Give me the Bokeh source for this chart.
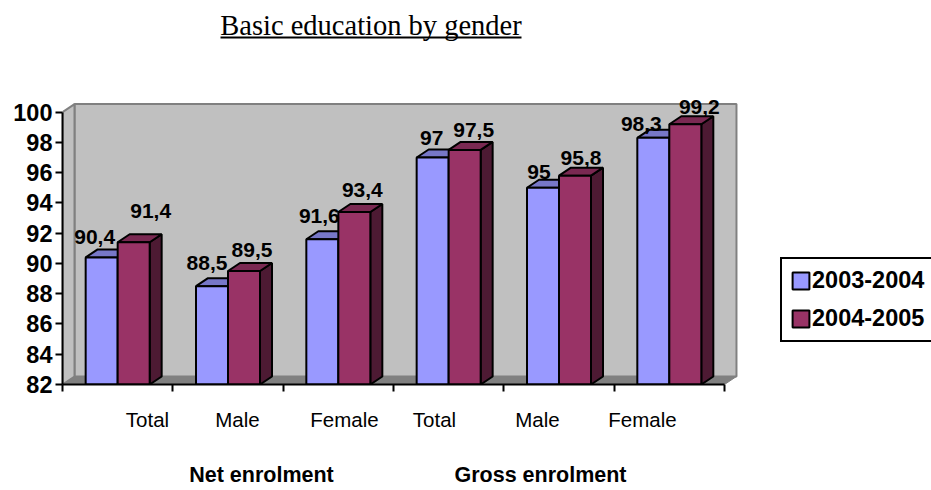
from bokeh.embed import file_html
from bokeh.resources import INLINE
from bokeh.plotting import figure
from bokeh.models import (ColumnDataSource, FixedTicker, Label, Legend, LegendItem,
                          LinearAxis, Range1d)
from bokeh.core.properties import value

# Chart values
categories = ["Total", "Male", "Female", "Total", "Male", "Female"]
series_names = ["2003-2004", "2004-2005"]
values_2003 = [90.4, 88.5, 91.6, 97, 95, 98.3]
values_2004 = [91.4, 89.5, 93.4, 97.5, 95.8, 99.2]
y_ticks = list(range(82, 101, 2))
group_titles = ["Net enrolment", "Gross enrolment"]
chart_title = "Basic education by gender"

# Page layout in pixels
W, H = 931, 490
LEFT, BASE = 62, 384
PX_PER_CAT = 110.33
PX_PER_UNIT = 15.133
DEPTH_X, DEPTH_Y = 12, 8
BAR_PX = 32
SANS = "Liberation Sans"
SERIF = "Liberation Serif"
Y0 = 82


def xpx(px):
    return (px - LEFT) / PX_PER_CAT


def ypx(py):
    return Y0 + (BASE - py) / PX_PER_UNIT


dx = DEPTH_X / PX_PER_CAT
dy = DEPTH_Y / PX_PER_UNIT
bw = BAR_PX / PX_PER_CAT
n = len(categories)

p = figure(width=W, height=H, output_backend="svg", toolbar_location=None,
           x_range=Range1d(0, (W - LEFT) / PX_PER_CAT),
           y_range=Range1d(Y0, ypx(0)),
           min_border_left=LEFT, min_border_right=0, min_border_top=0,
           min_border_bottom=H - BASE, outline_line_color=None,
           background_fill_color="white", border_fill_color="white")
p.grid.visible = False

# Walls and floor of the 3D box
wall = dict(line_color="#808080", line_width=2)
top = max(y_ticks)
p.patch([dx, n + dx, n + dx, dx], [Y0 + dy, Y0 + dy, top + dy, top + dy],
        fill_color="#c0c0c0", **wall)
p.patch([0, dx, dx, 0], [Y0, Y0 + dy, top + dy, top],
        fill_color="#c0c0c0", **wall)
p.patch([0, n, n + dx, dx], [Y0, Y0, Y0 + dy, Y0 + dy],
        fill_color="#808080", line_color="#808080", line_width=1)


def draw_series(vals, offset, face, lid, side):
    """Front, lid and side of one series' bars."""
    xc = [i + 0.5 + offset for i in range(n)]
    outline = dict(line_color="black", line_width=2)
    p.patches([[x + bw / 2, x + bw / 2 + dx, x + bw / 2 + dx, x + bw / 2] for x in xc],
              [[Y0, Y0 + dy, v + dy, v] for v in vals], fill_color=side, **outline)
    p.patches([[x - bw / 2, x + bw / 2, x + bw / 2 + dx, x - bw / 2 + dx] for x in xc],
              [[v, v, v + dy, v + dy] for v in vals], fill_color=lid, **outline)
    return p.vbar(x=xc, top=vals, bottom=Y0, width=bw, fill_color=face, **outline), xc


r_a, xc_a = draw_series(values_2003, -bw / 2, "#9999ff", "#7777c8", "#4a4a80")
r_b, xc_b = draw_series(values_2004, bw / 2, "#993366", "#7a2952", "#4d1a33")

# Value labels, nudged off the bar tops
label_dx = [-7, -5, -3, -1, -4, -12, 17, 8, 8, 9, 6, 14]
label_dy = [-20, -23, -23, -20, -16, -14, -31, -21, -22, -20, -18, -17]
all_vals = values_2003 + values_2004
src = ColumnDataSource(dict(
    x=xc_a + xc_b, y=all_vals,
    t=[f"{v:g}".replace(".", ",") for v in all_vals],
    ox=label_dx, oy=label_dy))
p.text("x", "y", text="t", source=src, x_offset="ox", y_offset="oy",
       text_font=value(SANS), text_font_style="bold", text_font_size="21px",
       text_align="center", text_baseline="middle", text_color="black")

# Value axis
p.yaxis.ticker = FixedTicker(ticks=y_ticks)
p.yaxis.bounds = (Y0, top)
p.yaxis.major_label_text_font = SANS
p.yaxis.major_label_text_font_style = "bold"
p.yaxis.major_label_text_font_size = "23.5px"
p.yaxis.major_label_text_color = "black"
p.yaxis.axis_line_color = "black"
p.yaxis.axis_line_width = 2
p.yaxis.major_tick_line_color = "black"
p.yaxis.major_tick_line_width = 2
p.yaxis.major_tick_in = 0
p.yaxis.major_tick_out = 7
p.yaxis.minor_tick_line_color = None
p.yaxis.major_label_standoff = 3

# Category axis: ticks at group edges, labels at their own positions
label_centres = [xpx(v) for v in (147, 237, 344, 434, 537, 642)]
p.xaxis.ticker = FixedTicker(ticks=label_centres, minor_ticks=list(range(n + 1)))
p.xaxis.major_label_overrides = dict(zip(label_centres, categories))
p.xaxis.bounds = (0, n)
p.xaxis.major_label_text_font = SANS
p.xaxis.major_label_text_font_size = "20.5px"
p.xaxis.major_label_text_color = "black"
p.xaxis.axis_line_color = "black"
p.xaxis.axis_line_width = 2
p.xaxis.major_tick_line_color = None
p.xaxis.major_tick_in = 0
p.xaxis.major_tick_out = 0
p.xaxis.minor_tick_line_color = "black"
p.xaxis.minor_tick_line_width = 2
p.xaxis.minor_tick_in = 0
p.xaxis.minor_tick_out = 7
p.xaxis.major_label_standoff = 16

# Group captions on a second, line-less axis underneath
group_centres = [xpx(261), xpx(540)]
caption_axis = LinearAxis(ticker=FixedTicker(ticks=group_centres),
                          major_label_overrides=dict(zip(group_centres, group_titles)),
                          axis_line_color=None, major_tick_line_color=None,
                          minor_tick_line_color=None, major_tick_in=0, major_tick_out=0,
                          major_label_standoff=29, major_label_text_font=SANS,
                          major_label_text_font_style="bold",
                          major_label_text_font_size="21.5px",
                          major_label_text_color="black")
p.add_layout(caption_axis, "below")

# Underlined heading
p.add_layout(Label(x=xpx(370.5), y=ypx(25), text=chart_title, text_align="center",
                   text_baseline="middle", text_font=SERIF, text_font_size="28.5px",
                   text_color="black"))
p.segment(x0=[xpx(220)], y0=[ypx(37)], x1=[xpx(521)], y1=[ypx(37)],
          line_color="black", line_width=2)

legend = Legend(items=[LegendItem(label=series_names[0], renderers=[r_a]),
                       LegendItem(label=series_names[1], renderers=[r_b])],
                location=(780 - LEFT, BASE - 342), orientation="vertical",
                margin=0, padding=8, spacing=11,
                glyph_width=21, glyph_height=21, label_standoff=1,
                label_text_font=SANS, label_text_font_style="bold",
                label_text_font_size="23.5px", label_text_color="black",
                border_line_color="black", border_line_alpha=1, border_line_width=2,
                background_fill_color="white", background_fill_alpha=1)
p.add_layout(legend, "center")

open("out.html", "w").write(file_html(p, INLINE))
